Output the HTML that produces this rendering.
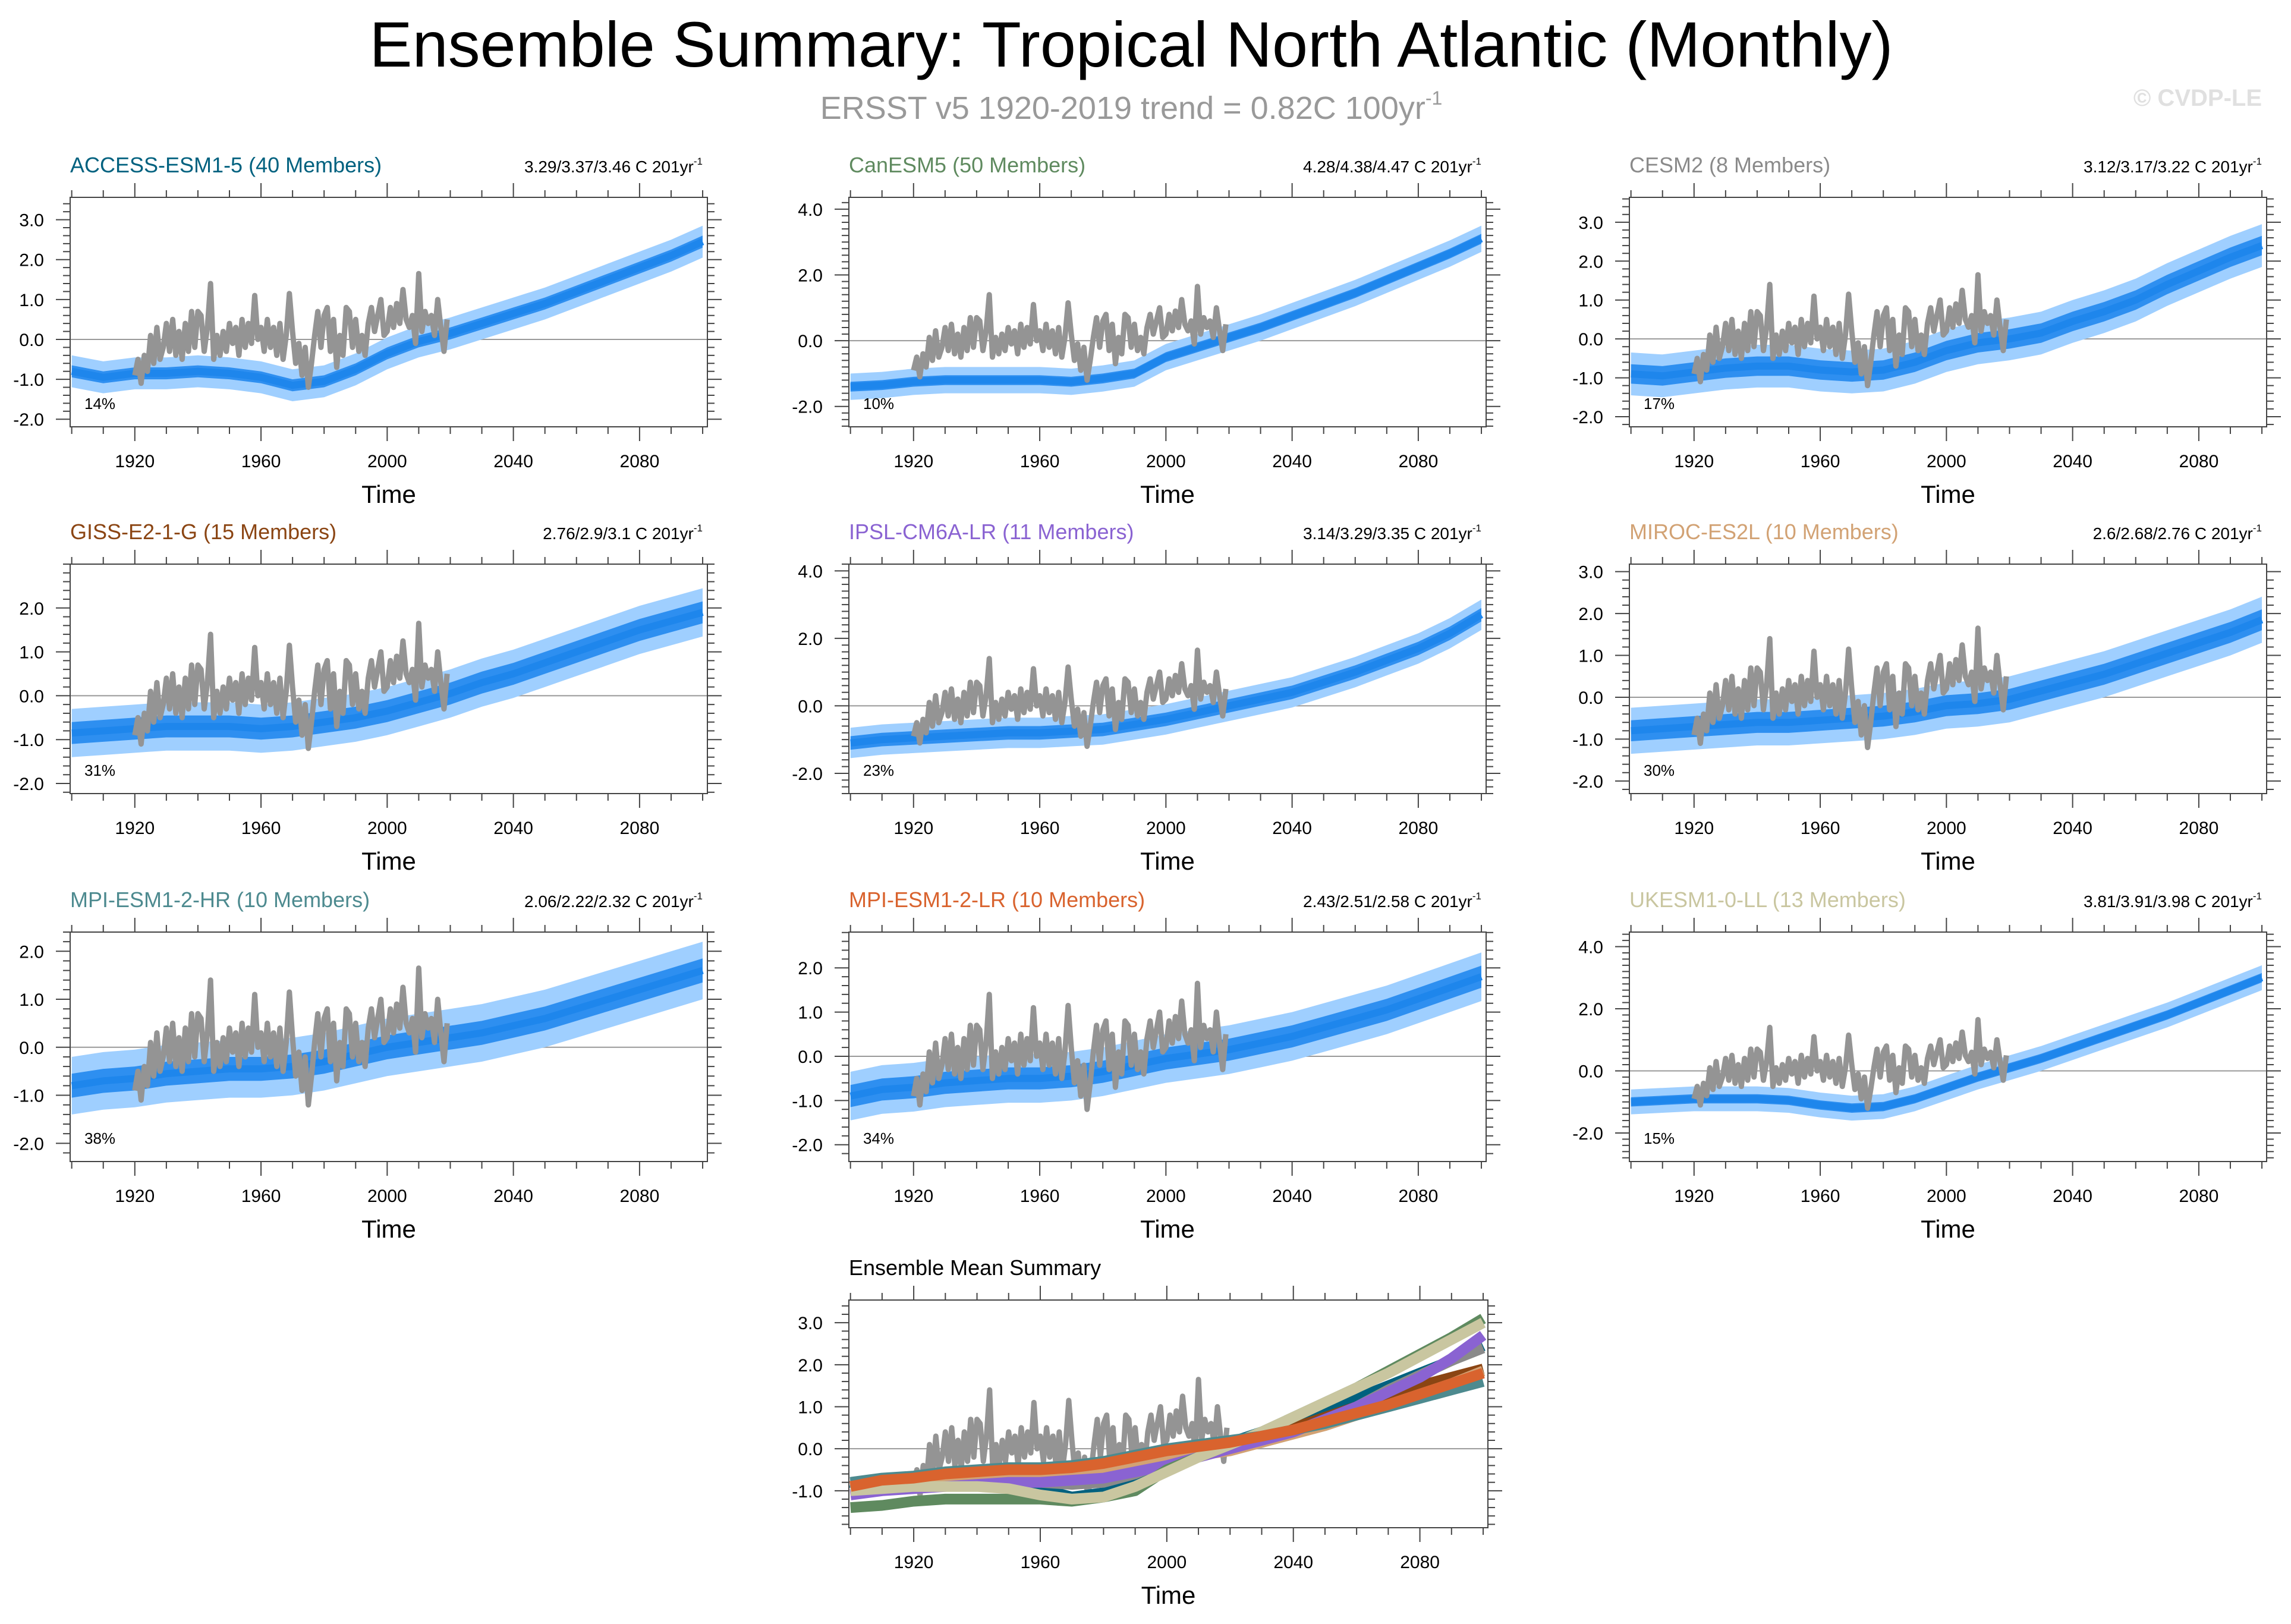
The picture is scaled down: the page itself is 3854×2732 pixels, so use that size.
<!DOCTYPE html>
<html><head><meta charset="utf-8"><style>
html,body{margin:0;padding:0;background:#fff;}
svg{display:block;font-family:"Liberation Sans",sans-serif;}
</style></head><body>
<svg id="chart" width="3854" height="2732" viewBox="0 0 3854 2732" xmlns="http://www.w3.org/2000/svg">
<rect width="3854" height="2732" fill="#fff"/>
<text x="1903" y="112" font-size="108" text-anchor="middle" fill="#000">Ensemble Summary: Tropical North Atlantic (Monthly)</text>
<text x="1903" y="200" font-size="54" text-anchor="middle" fill="#999">ERSST v5 1920-2019 trend = 0.82C 100yr<tspan font-size="32" dy="-24">-1</tspan></text>
<text x="3805" y="178" font-size="40" font-weight="bold" text-anchor="end" fill="#e0e0e0">© CVDP-LE</text>
</svg>
<script>
const years10 = [1900,1910,1920,1930,1940,1950,1960,1970,1980,1990,2000,2010,2020,2030,2040,2050,2060,2070,2080,2090,2100];
const obsYears = [];
for (let y = 1920; y <= 2019; y++) obsYears.push(y);
const obsValues = [-0.9,-0.5,-1.1,-0.4,-0.8,0.1,-0.6,0.3,-0.5,-0.2,0.4,-0.3,0.5,-0.4,0.2,-0.5,0.4,-0.3,0.7,-0.2,0.7,0.6,-0.3,0.3,1.4,-0.5,0.1,-0.4,0.2,-0.3,0.4,-0.1,0.3,-0.4,0.5,-0.2,0.4,-0.1,1.1,0.0,0.3,-0.3,0.5,-0.2,0.3,-0.4,0.4,-0.5,0.1,1.15,0.2,-0.6,-0.1,-0.9,-0.2,-1.2,-0.6,0.1,0.7,-0.2,0.6,0.8,-0.3,0.5,-0.7,0.1,-0.4,0.8,0.7,-0.2,0.5,-0.3,0.1,-0.4,0.4,0.8,0.2,0.6,1.0,0.1,0.2,0.8,0.3,0.9,0.4,1.25,0.5,0.3,0.6,-0.1,1.65,0.2,0.7,0.4,0.6,0.1,1.0,0.3,-0.3,0.5];
const accessMean = [-0.8,-0.95,-0.85,-0.85,-0.8,-0.85,-0.95,-1.15,-1.05,-0.75,-0.35,-0.05,0.15,0.4,0.65,0.9,1.2,1.5,1.8,2.1,2.45];
const canesmMean = [-1.4,-1.35,-1.25,-1.2,-1.2,-1.2,-1.2,-1.25,-1.15,-1.0,-0.5,-0.2,0.1,0.4,0.75,1.1,1.45,1.85,2.25,2.65,3.1];
const cesmMean = [-0.9,-0.95,-0.85,-0.75,-0.7,-0.7,-0.8,-0.85,-0.8,-0.6,-0.3,-0.1,0.0,0.15,0.45,0.7,1.0,1.4,1.75,2.1,2.4];
const gissMean = [-0.85,-0.8,-0.75,-0.7,-0.7,-0.7,-0.75,-0.7,-0.6,-0.5,-0.35,-0.15,0.05,0.3,0.5,0.75,1.0,1.25,1.5,1.7,1.9];
const ipslMean = [-1.1,-1.0,-0.95,-0.9,-0.85,-0.8,-0.8,-0.75,-0.7,-0.55,-0.4,-0.2,0.0,0.2,0.4,0.7,1.0,1.35,1.7,2.15,2.7];
const mirocMean = [-0.8,-0.75,-0.7,-0.65,-0.6,-0.6,-0.55,-0.5,-0.45,-0.35,-0.2,-0.15,-0.05,0.15,0.35,0.55,0.8,1.05,1.3,1.55,1.85];
const mpihrMean = [-0.8,-0.7,-0.65,-0.55,-0.5,-0.45,-0.45,-0.4,-0.3,-0.15,0.0,0.1,0.2,0.3,0.45,0.6,0.8,1.0,1.2,1.4,1.6];
const mpilrMean = [-0.9,-0.75,-0.7,-0.6,-0.55,-0.5,-0.5,-0.45,-0.35,-0.2,-0.05,0.05,0.15,0.3,0.45,0.65,0.85,1.05,1.3,1.55,1.8];
const ukesmMean = [-1.0,-0.95,-0.9,-0.9,-0.9,-0.95,-1.1,-1.2,-1.15,-0.9,-0.55,-0.2,0.1,0.4,0.75,1.1,1.45,1.8,2.2,2.6,3.0];
const innerSpread = [0.15,0.15,0.25,0.25,0.2,0.25,0.25,0.25,0.15];
const outerSpread = [0.4,0.4,0.55,0.55,0.45,0.55,0.6,0.55,0.4];
const modelNames = ["ACCESS-ESM1-5 (40 Members)","CanESM5 (50 Members)","CESM2 (8 Members)","GISS-E2-1-G (15 Members)","IPSL-CM6A-LR (11 Members)","MIROC-ES2L (10 Members)","MPI-ESM1-2-HR (10 Members)","MPI-ESM1-2-LR (10 Members)","UKESM1-0-LL (13 Members)"];
const trendLabels = ["3.29/3.37/3.46 C 201yr","4.28/4.38/4.47 C 201yr","3.12/3.17/3.22 C 201yr","2.76/2.9/3.1 C 201yr","3.14/3.29/3.35 C 201yr","2.6/2.68/2.76 C 201yr","2.06/2.22/2.32 C 201yr","2.43/2.51/2.58 C 201yr","3.81/3.91/3.98 C 201yr"];
const pctLabels = ["14%","10%","17%","31%","23%","30%","38%","34%","15%"];
const yMins = [-2.19,-2.62,-2.26,-2.23,-2.6,-2.3,-2.38,-2.38,-2.92];
const yMaxs = [3.56,4.36,3.64,3.0,4.2,3.18,2.4,2.81,4.47];
const yTicks = [[-2,-1,0,1,2,3],[-2,0,2,4],[-2,-1,0,1,2,3],[-2,-1,0,1,2],[-2,0,2,4],[-2,-1,0,1,2,3],[-2,-1,0,1,2],[-2,-1,0,1,2],[-2,0,2,4]];
const xTickYears = [1920,1960,2000,2040,2080];
const summaryTicks = [-1,0,1,2,3];
const allMeans = [accessMean,canesmMean,cesmMean,gissMean,ipslMean,mirocMean,mpihrMean,mpilrMean,ukesmMean];
const colors = ["#00617f","#5f8a5f","#8a8a8a","#8b4513","#8a63d2","#d2a274","#4d8a8f","#d9632e","#c9c6a0"];

const svg = document.getElementById('chart');
const NS = 'http://www.w3.org/2000/svg';
function mk(tag, attrs, parent){const e=document.createElementNS(NS,tag);for(const k in attrs)e.setAttribute(k,attrs[k]);(parent||svg).appendChild(e);return e;}

function drawFrame(g, L, T, W, H, ymin, ymax, ticks){
  const xs = yr => L + (yr-1899.5)/202*W;
  const ys = v => T + (ymax-v)/(ymax-ymin)*H;
  for (let yr=1900; yr<=2100; yr+=10){
    const major = xTickYears.includes(yr);
    const len = major?24:12;
    mk('line',{x1:xs(yr),x2:xs(yr),y1:T,y2:T-len,stroke:'#444','stroke-width':2},g);
    mk('line',{x1:xs(yr),x2:xs(yr),y1:T+H,y2:T+H+len,stroke:'#444','stroke-width':2},g);
  }
  for (const yr of xTickYears){
    const t = mk('text',{x:xs(yr),y:T+H+68,'font-size':30,'text-anchor':'middle',fill:'#000'},g);
    t.textContent = yr;
  }
  const step = 0.2;
  for (let v=Math.ceil(ymin/step)*step; v<=ymax+1e-6; v+=step){
    const vv = Math.round(v*10)/10;
    const major = ticks.includes(vv);
    const len = major?24:12;
    mk('line',{x1:L,x2:L-len,y1:ys(vv),y2:ys(vv),stroke:'#444','stroke-width':2},g);
    mk('line',{x1:L+W,x2:L+W+len,y1:ys(vv),y2:ys(vv),stroke:'#444','stroke-width':2},g);
  }
  for (const v of ticks){
    const t = mk('text',{x:L-44,y:ys(v)+11,'font-size':30,'text-anchor':'end',fill:'#000'},g);
    t.textContent = v.toFixed(1);
  }
  mk('line',{x1:L,x2:L+W,y1:ys(0),y2:ys(0),stroke:'#999','stroke-width':2},g);
  const xt = mk('text',{x:L+W/2,y:T+H+128,'font-size':42,'text-anchor':'middle',fill:'#000'},g);
  xt.textContent = 'Time';
  return {xs, ys};
}
function pathFrom(xsArr, vals, ax){return vals.map((v,i)=>(i?'L':'M')+ax.xs(xsArr[i]).toFixed(1)+','+ax.ys(v).toFixed(1)).join(' ');}
function bandFrom(vals, s, ax){
  let d = vals.map((v,i)=>(i?'L':'M')+ax.xs(years10[i]).toFixed(1)+','+ax.ys(v+s).toFixed(1)).join(' ');
  for (let i=vals.length-1;i>=0;i--) d += ' L'+ax.xs(years10[i]).toFixed(1)+','+ax.ys(vals[i]-s).toFixed(1);
  return d+' Z';
}

const colL = [118,1428,2741], rowT = [332,949,1568], PW = 1072, PH = 386;
for (let m=0;m<9;m++){
  const L = colL[m%3], T = rowT[Math.floor(m/3)];
  const g = mk('g',{});
  
  
  const ax = drawFrame(g, L, T, PW, PH, yMins[m], yMaxs[m], yTicks[m]);
  const outer = mk('path',{d:bandFrom(allMeans[m], outerSpread[m], ax),fill:'#9fcfff'},g);
  
  
  const inner = mk('path',{d:bandFrom(allMeans[m], innerSpread[m], ax),fill:'#2e8ff0'},g);
  
  
  const mean = mk('path',{d:pathFrom(years10, allMeans[m], ax),fill:'none',stroke:'#1e86ec','stroke-width':12},g);
  
  
  const obs = mk('path',{d:pathFrom(obsYears, obsValues, ax),fill:'none',stroke:'#949494','stroke-width':9,'stroke-linejoin':'round'},g);
  
  
  mk('rect',{x:L,y:T,width:PW,height:PH,fill:'none',stroke:'#444','stroke-width':2},g);
  const tt = mk('text',{x:L,y:T-42,'font-size':36,fill:colors[m]},g);
  tt.textContent = modelNames[m];
  
  
  const tr = mk('text',{x:L+PW-8,y:T-42,'font-size':28,'text-anchor':'end',fill:'#000'},g);
  tr.textContent = trendLabels[m];
  const sup = mk('tspan',{'font-size':17,dy:-13},tr);
  sup.textContent = '-1';
  
  
  const pc = mk('text',{x:L+24,y:T+PH-30,'font-size':26,fill:'#000'},g);
  pc.textContent = pctLabels[m];
  
  
}
{
  const L=1428,T=2187,W=1075,H=383;
  const g = mk('g',{});
  
  
  const ax = drawFrame(g, L, T, W, H, -1.88, 3.54, summaryTicks);
  const obs = mk('path',{d:pathFrom(obsYears, obsValues, ax),fill:'none',stroke:'#949494','stroke-width':9,'stroke-linejoin':'round'},g);
  
  
  const order = [0,2,3,5,4,1,8,6,7];
  for (const m of order){
    const p = mk('path',{d:pathFrom(years10, allMeans[m], ax),fill:'none',stroke:colors[m],'stroke-width':18,'stroke-linejoin':'round'},g);
    
    
  }
  mk('rect',{x:L,y:T,width:W,height:H,fill:'none',stroke:'#444','stroke-width':2},g);
  const tt = mk('text',{x:L,y:T-42,'font-size':36,fill:'#000'},g);
  tt.textContent = 'Ensemble Mean Summary';
  
  
}
</script>
</body></html>
